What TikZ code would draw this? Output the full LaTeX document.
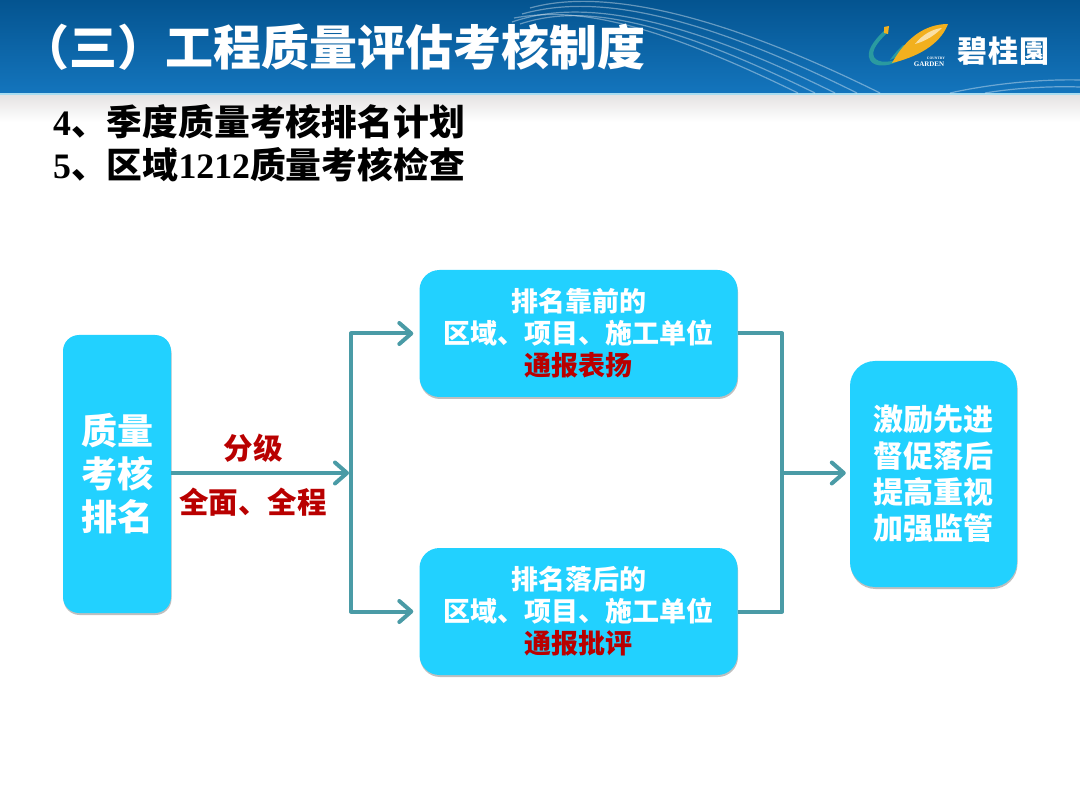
\documentclass[tikz,border=0pt]{standalone}
\usepackage{fontspec}
\setmainfont{Liberation Serif}
\newfontfamily\cjk{Noto Sans CJK SC}
\usetikzlibrary{arrows.meta}
\usetikzlibrary{shadows}
\definecolor{header top}{HTML}{045490}
\definecolor{header bottom}{HTML}{1475BD}
\definecolor{header edge}{HTML}{A9DDF0}
\definecolor{strip colour}{HTML}{E6E4E4}
\definecolor{box colour}{HTML}{22D1FF}
\definecolor{link colour}{HTML}{4A9BA6}
\definecolor{alert colour}{HTML}{B90000}
\definecolor{logo teal}{HTML}{2A9AA0}
\definecolor{logo gold}{HTML}{F2B01E}
\tikzset{
    % Connector shape, barbed tip as in the slide
    >={Straight Barb[length=12pt,width=21pt,line width=4pt,round]},
    link/.style={color=link colour, line width=4pt, line join=round},
    % Blue boxes
    stage/.style={draw=none, fill=box colour, align=center, text=white, inner sep=0pt,
        font=\cjk\bfseries, drop shadow={shadow xshift=0.5pt, shadow yshift=-2pt,
        fill=black, opacity=0.25}},
    swoosh/.style={draw=white, opacity=0.38, line width=1.2pt},
    every node/.style={align=center},
}
\newcommand{\alert}[1]{\textcolor{alert colour}{#1}}
\begin{document}
\begin{tikzpicture}[
    x=1pt, y=-1pt,
    mid label/.style={text=alert colour, font=\fontsize{29.5}{32}\cjk\bfseries},
    rank box/.style={stage, minimum width=108pt, minimum height=278pt, rounded corners=16pt,
        font=\fontsize{36}{43}\cjk\bfseries},
    result box/.style={stage, minimum width=318pt, minimum height=127pt, rounded corners=20pt,
        font=\fontsize{27}{32}\cjk\bfseries},
    goal box/.style={stage, minimum width=167pt, minimum height=226pt, rounded corners=25pt,
        font=\fontsize{30}{36.4}\cjk\bfseries},
    list line/.style={anchor=west, inner sep=0pt, text=black, font=\fontsize{35.8}{40}\bfseries},
]
\useasboundingbox (0,0) rectangle (1080,810);

% header band
\shade [top color=header top, bottom color=header bottom] (0,0) rectangle (1080,94);
\fill [header edge] (0,93.5) rectangle (1080,96);
\shade [top color=strip colour, bottom color=white] (0,96) rectangle (1080,122);

% lines in the band
\draw [swoosh] (530,8) .. controls (580,-6) and (680,-6) .. (880,93);
\draw [swoosh] (522,14) .. controls (580,-2) and (670,0) .. (857,93);
\draw [swoosh] (512,22) .. controls (570,2) and (660,6) .. (835,93);
\draw [swoosh] (520,24) .. controls (575,6) and (650,12) .. (815,93);
\draw [swoosh] (514,18) .. controls (570,8) and (640,16) .. (798,93);
\draw [swoosh] (950,93) .. controls (990,84) and (1040,79) .. (1080,80);
\draw [swoosh] (985,93) .. controls (1015,88) and (1050,86) .. (1080,87);

% logo
\fill [logo teal] (885,30) .. controls (872,42) and (866,52) .. (870,60)
    .. controls (874,68) and (892,68) .. (905,56)
    .. controls (892,63) and (878,64) .. (874,57)
    .. controls (871,50) and (878,42) .. (888,32) -- cycle;
\fill [logo gold] (884,27) -- (889,26) -- (888,34) -- (884,33) -- cycle;
\fill [logo teal] (903,45) .. controls (898,50) and (894,54) .. (890,60)
    -- (895,58) .. controls (898,54) and (902,50) .. (906,47) -- cycle;
\fill [logo gold] (892,63) .. controls (906,38) and (925,24) .. (948,24)
    .. controls (942,40) and (925,55) .. (892,63) -- cycle;
\fill [white, opacity=0.6] (915,44) .. controls (923,34) and (933,29) .. (942,28)
    .. controls (935,35) and (926,41) .. (915,44) -- cycle;
\node (logo small) [inner sep=0pt, text=white, font=\fontsize{3.6}{4}\bfseries] at (936,58) {COUNTRY};
\node (logo big) [inner sep=0pt, text=white, font=\fontsize{7}{8}\bfseries] at (929,64) {GARDEN};
\node (logo name) [anchor=west, inner sep=0pt, text=white, font=\fontsize{30}{34}\cjk\bfseries]
    at (957,51) {碧\hspace{1pt}桂\hspace{1pt}園};

% titles
\node (title) [anchor=west, inner sep=0pt, text=white, font=\fontsize{48}{52}\cjk\bfseries]
    at (21,47) {（三）工程质量评估考核制度};
\path
    (53,122) node (plan line) [list line] {4{\cjk 、季度质量考核排名计划}}
    ++(0,43) node (check line) [list line] {5{\cjk 、区域}1212{\cjk 质量考核检查}};

% stages
\path
    (117,474) node (rank) [rank box] {质量\\考核\\排名}
    ++(461.5,-140.5) node (front) [result box]
        {排名靠前的\\区域、项目、施工单位\\\alert{通报表扬}}
    ++(0,278) node (back) [result box]
        {排名落后的\\区域、项目、施工单位\\\alert{通报批评}}
    (933.5,474) node (goal) [goal box] {激励先进\\督促落后\\提高重视\\加强监管};

\coordinate (split) at (351,473);
\coordinate (join) at (782,473);

\draw [link, ->, shorten >=2pt] (rank.east |- split) -- (split)
    node (grade) [mid label, midway, above=5pt, xshift=-8pt] {分级}
    node (scope) [mid label, midway, below=10pt, xshift=-8pt] {全面、全程};
\draw [link, ->, shorten >=6pt] (split) |- (front.west);
\draw [link, ->, shorten >=6pt] (split) |- (back.west);
\draw [link] (front.east) -| (join);
\draw [link] (back.east) -| (join);
\draw [link, ->, shorten >=4pt] (join) -- (goal.west |- join);

\end{tikzpicture}
\end{document}
